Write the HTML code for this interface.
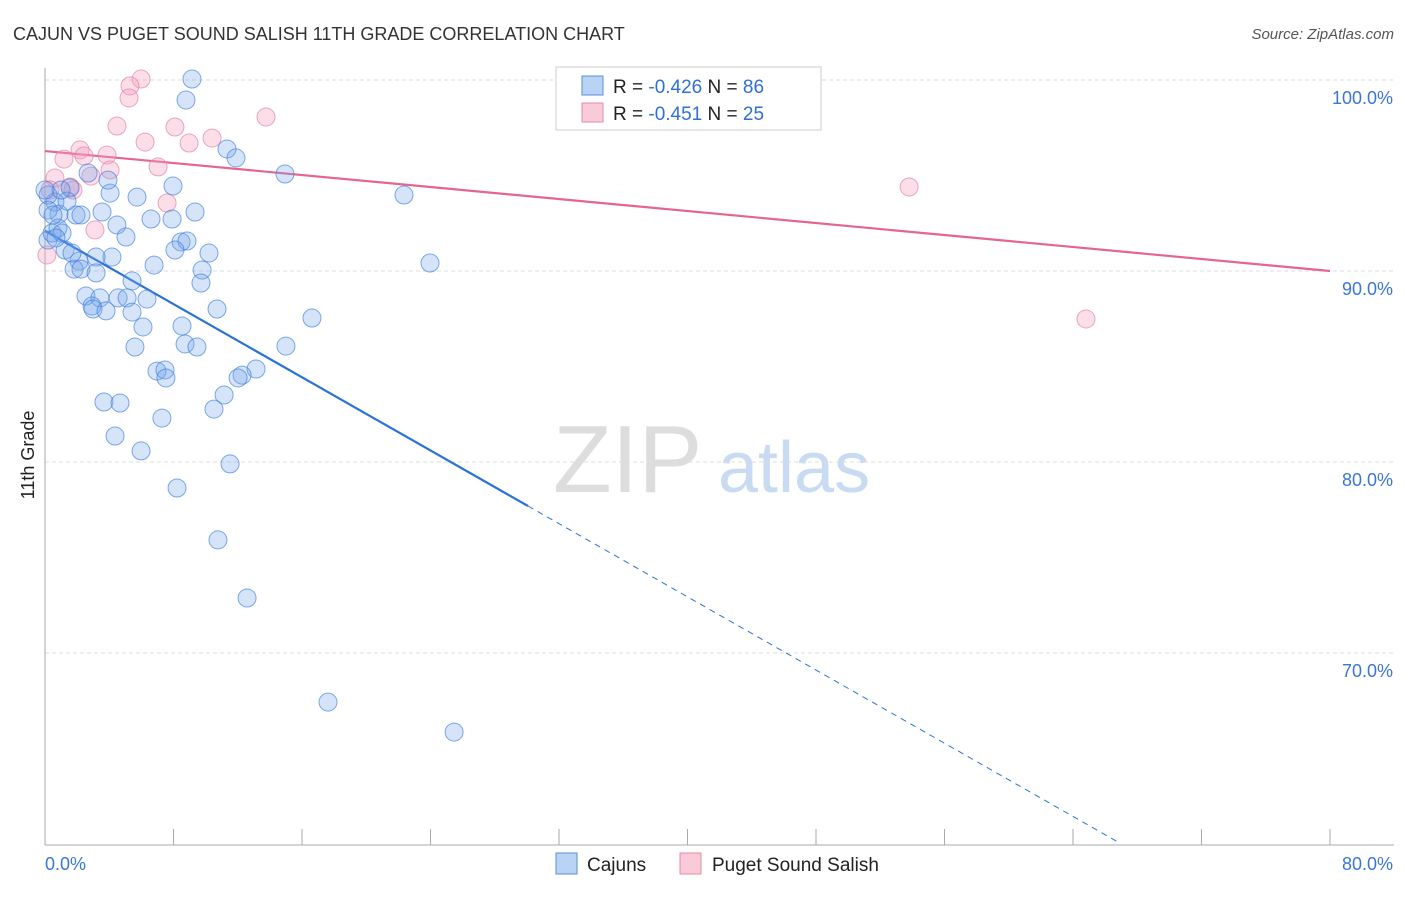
<!DOCTYPE html>
<html><head><meta charset="utf-8"><style>
body{margin:0;background:#fff;font-family:"Liberation Sans",sans-serif;}
svg text{font-family:"Liberation Sans",sans-serif;}
</style></head><body>
<svg id="chart" width="1406" height="892" xmlns="http://www.w3.org/2000/svg">
<text x="13" y="40" font-size="18" fill="#333">CAJUN VS PUGET SOUND SALISH 11TH GRADE CORRELATION CHART</text>
<text x="1394" y="39" font-size="15" fill="#555" text-anchor="end" font-style="italic">Source: ZipAtlas.com</text>
<g>
<text x="553" y="492" font-size="96" fill="#ddd" font-family="Liberation Serif">ZIP</text>
<text x="718" y="492" font-size="72" fill="#c8dbf2">atlas</text>
</g>
<g id="grid"></g>
<g id="axes"></g>
<g id="trends"></g>
<g id="points"></g>
<text transform="translate(34,455) rotate(-90)" font-size="18" fill="#222" text-anchor="middle">11th Grade</text>
<g>
<rect x="556" y="67" width="265" height="63" fill="#fff" stroke="#ccc"/>
<rect x="582" y="76" width="21" height="19" fill="#b9d3f5" stroke="#5b8fd9"/>
<text x="613" y="93" font-size="19" fill="#222">R = <tspan fill="#2f6fd6">-0.426</tspan>   N = <tspan fill="#2f6fd6">86</tspan></text>
<rect x="582" y="103" width="21" height="19" fill="#f9cad8" stroke="#e88aa8"/>
<text x="613" y="120" font-size="19" fill="#222">R =  <tspan fill="#2f6fd6">-0.451</tspan>   N = <tspan fill="#2f6fd6">25</tspan></text>
</g>
<g>
<rect x="556" y="853" width="21" height="21" fill="#b9d3f5" stroke="#5b8fd9"/>
<text x="587" y="871" font-size="19" fill="#222">Cajuns</text>
<rect x="680" y="853" width="21" height="21" fill="#f9cad8" stroke="#e88aa8"/>
<text x="712" y="871" font-size="19" fill="#222">Puget Sound Salish</text>
</g>
</svg>
<script>
const blueX=[9.15,8.78,11.33,11.89,14.94,22.35,23.97,16.62,15.0,7.97,5.73,4.05,3.92,2.68,1.56,0.62,0.19,0.87,1.93,2.24,3.55,4.48,6.6,7.91,9.34,5.04,8.47,8.84,8.09,10.21,4.17,3.18,2.12,1.81,2.24,3.18,6.79,9.78,9.71,5.42,2.55,3.42,4.55,5.11,6.35,2.93,2.99,3.8,5.42,10.71,6.1,8.53,5.6,8.72,9.46,6.97,7.47,7.53,13.14,12.27,12.02,11.15,3.67,4.67,10.52,7.28,4.36,5.98,11.52,8.22,10.77,12.58,17.62,25.47,1.25,0.19,0.44,0.81,1.06,1.37,1.0,0,0.19,0.5,0.68,1.68];
const blueY=[100.05,98.95,96.39,95.92,95.08,93.98,90.42,87.54,86.07,94.45,93.87,94.08,94.76,95.13,94.35,93.61,93.98,92.98,92.93,92.93,93.09,92.41,92.72,92.72,93.09,91.78,91.52,91.57,91.1,90.94,90.73,90.73,90.52,90.1,90.1,89.9,90.31,90.05,89.37,89.48,88.69,88.59,88.59,88.59,88.53,88.17,88.01,87.91,87.85,88.01,87.07,87.12,86.02,86.18,86.02,84.76,84.82,84.4,84.87,84.55,84.4,83.51,83.14,83.09,82.77,82.3,81.36,80.58,79.9,78.64,75.92,72.88,67.43,65.86,91.1,91.62,91.99,92.25,91.99,93.66,94.24,94.24,93.19,92.93,91.73,90.94];
const pinkX=[5.98,5.29,5.23,13.76,4.48,8.09,10.4,6.23,8.97,1.18,2.18,2.43,3.86,7.04,4.05,2.86,0.62,1.56,1.74,7.6,3.11,0.12,53.8,64.81,0.31];
const pinkY=[100.05,99.69,99.06,98.06,97.59,97.54,96.96,96.75,96.7,95.86,96.34,96.02,96.07,95.45,95.29,94.97,94.87,94.4,94.24,93.56,92.15,90.84,94.4,87.49,94.24];
const blueTrend=[92.1,-0.479];
const pinkTrend=[96.28,-0.0785];
const xTicks=[0,80];
const yTicks=[100,90,80,70];
const NS="http://www.w3.org/2000/svg";
const sx=v=>45+v*16.0625;
const sy=v=>80+(100-v)*19.1;
function mk(tag,attrs,parent){const e=document.createElementNS(NS,tag);for(const k in attrs)e.setAttribute(k,attrs[k]);document.getElementById(parent).appendChild(e);return e;}
yTicks.forEach(t=>{
 const l=mk('line',{x1:45,x2:1394,y1:sy(t),y2:sy(t),stroke:'#ddd','stroke-dasharray':'4,3'},'grid');
 
 
 const tx=mk('text',{x:1393,y:sy(t)+24,'font-size':18,fill:'#3a76d6','text-anchor':'end'},'grid');
 tx.textContent=t.toFixed(1)+'%';
 
 
});
const ax=mk('line',{x1:45,x2:45,y1:68,y2:845,stroke:'#aaa'},'axes');


const bx=mk('line',{x1:45,x2:1394,y1:845,y2:845,stroke:'#aaa'},'axes');


for(let i=0;i<=10;i++){
 const x=sx(i*8);
 const tk=mk('line',{x1:x,x2:x,y1:829,y2:845,stroke:'#aaa'},'axes');
 
 
}
xTicks.forEach((t,i)=>{
 const tx=mk('text',{x:i==0?45:1393,y:870,'font-size':18,fill:'#3a76d6','text-anchor':i==0?'start':'end'},'axes');
 tx.textContent=t.toFixed(1)+'%';
 
 
});
// trends
const bEnd=30.07, bDash=66.9;
const t1=mk('line',{x1:sx(0),y1:sy(blueTrend[0]),x2:sx(bEnd),y2:sy(blueTrend[0]+blueTrend[1]*bEnd),stroke:'#2a72d8','stroke-width':2.2},'trends');


const t2=mk('line',{x1:sx(bEnd),y1:sy(blueTrend[0]+blueTrend[1]*bEnd),x2:sx(bDash),y2:sy(blueTrend[0]+blueTrend[1]*bDash),stroke:'#2a72d8','stroke-width':1,'stroke-dasharray':'6,5'},'trends');


const t3=mk('line',{x1:sx(0),y1:sy(pinkTrend[0]),x2:sx(80),y2:sy(pinkTrend[0]+pinkTrend[1]*80),stroke:'#e4668e','stroke-width':2.2},'trends');


pinkX.forEach((v,i)=>{
 const c=mk('circle',{cx:sx(v),cy:sy(pinkY[i]),r:9,fill:'rgba(244,160,188,0.35)',stroke:'rgba(232,130,165,0.7)','stroke-width':1},'points');
 
 
});
blueX.forEach((v,i)=>{
 const c=mk('circle',{cx:sx(v),cy:sy(blueY[i]),r:9,fill:'rgba(120,165,235,0.3)',stroke:'rgba(60,125,220,0.65)','stroke-width':1},'points');
 
 
});
</script>
</body></html>
